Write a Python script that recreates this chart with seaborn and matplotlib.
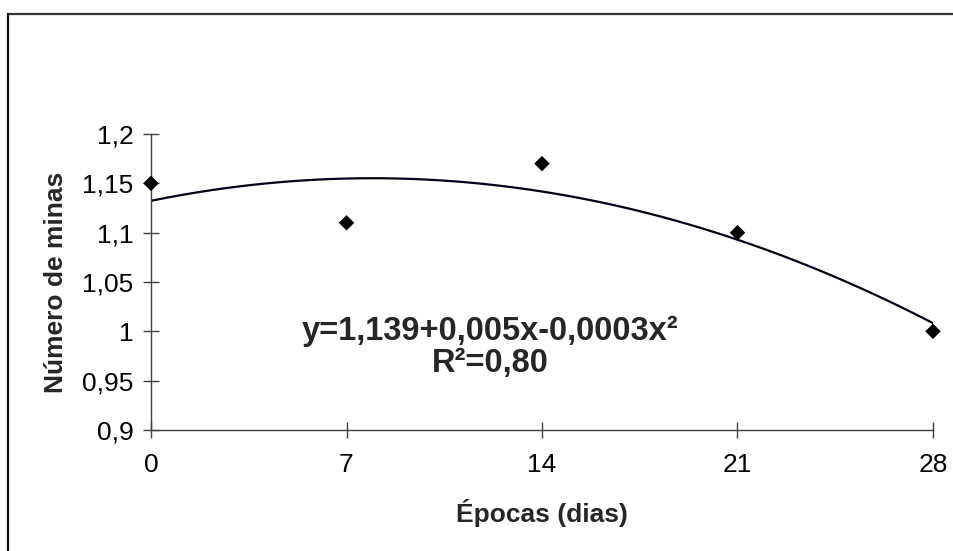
"""
Número de minas vs. épocas (dias), with a quadratic trend line.
"""

import pandas as pd
import numpy as np
import matplotlib
matplotlib.use("Agg")
import matplotlib.pyplot as plt
from matplotlib.lines import Line2D
from matplotlib.ticker import FuncFormatter
import seaborn as sns


EPOCAS = [0, 7, 14, 21, 28]
MINAS = [1.15, 1.11, 1.17, 1.10, 1.00]
X_TICKS = [0, 7, 14, 21, 28]
Y_TICKS = [0.9, 0.95, 1.0, 1.05, 1.1, 1.15, 1.2]
EQUATION = "y=1,139+0,005x-0,0003x²\nR²=0,80"


def comma_fmt(v, pos):
    return f"{v:g}".replace(".", ",")


def main():
    df = pd.DataFrame({"epocas": EPOCAS, "minas": MINAS})

    sns.set_theme(style="ticks")
    plt.rcParams["font.family"] = ["Liberation Sans", "DejaVu Sans"]

    fig = plt.figure(figsize=(9.54, 5.51), dpi=100)
    ax = fig.add_axes([151 / 954, 1 - 430 / 551, 782 / 954, 296 / 551])

    # ── trend line (2nd order fit) ─────────────────────────────────────────
    sns.regplot(data=df, x="epocas", y="minas", order=2, ci=None,
                scatter=False, truncate=True, ax=ax,
                line_kws={"color": "#000018", "linewidth": 1.6})

    # ── observed points ────────────────────────────────────────────────────
    sns.scatterplot(data=df, x="epocas", y="minas", marker="D", s=62,
                    color="black", edgecolor="none", clip_on=False,
                    zorder=5, ax=ax)

    ax.set_xlim(0, 28)
    ax.set_ylim(0.9, 1.2)
    ax.set_xticks(X_TICKS)
    ax.set_yticks(Y_TICKS)
    ax.yaxis.set_major_formatter(FuncFormatter(comma_fmt))
    ax.tick_params(axis="both", direction="inout", length=11, width=1.0,
                   color="#404040", labelsize=19, labelcolor="black")
    ax.tick_params(axis="x", pad=11)
    ax.tick_params(axis="y", pad=7)

    for side in ["top", "right"]:
        ax.spines[side].set_visible(False)
    for side in ["left", "bottom"]:
        ax.spines[side].set_color("#404040")
        ax.spines[side].set_linewidth(1.0)

    ax.set_xlabel("Épocas (dias)", fontsize=19, fontweight="bold",
                  labelpad=16)
    ax.set_ylabel("Número de minas", fontsize=19, fontweight="bold",
                  labelpad=10)

    ax.text(12.15, 0.984, EQUATION, ha="center", va="center", fontsize=23.5,
            fontweight="bold", linespacing=1.05)

    # ── chart-area border (top and left edges visible) ────────────────────
    top = 1 - 13.5 / 551
    left = 8.5 / 954
    fig.add_artist(Line2D([left, 1.0], [top, top], color="#333333",
                          linewidth=1.6, transform=fig.transFigure))
    fig.add_artist(Line2D([left, left], [0.0, top], color="#111111",
                          linewidth=1.6, transform=fig.transFigure))

    fig.savefig("out.png", dpi=100, facecolor="white")
    plt.close(fig)


if __name__ == "__main__":
    main()
